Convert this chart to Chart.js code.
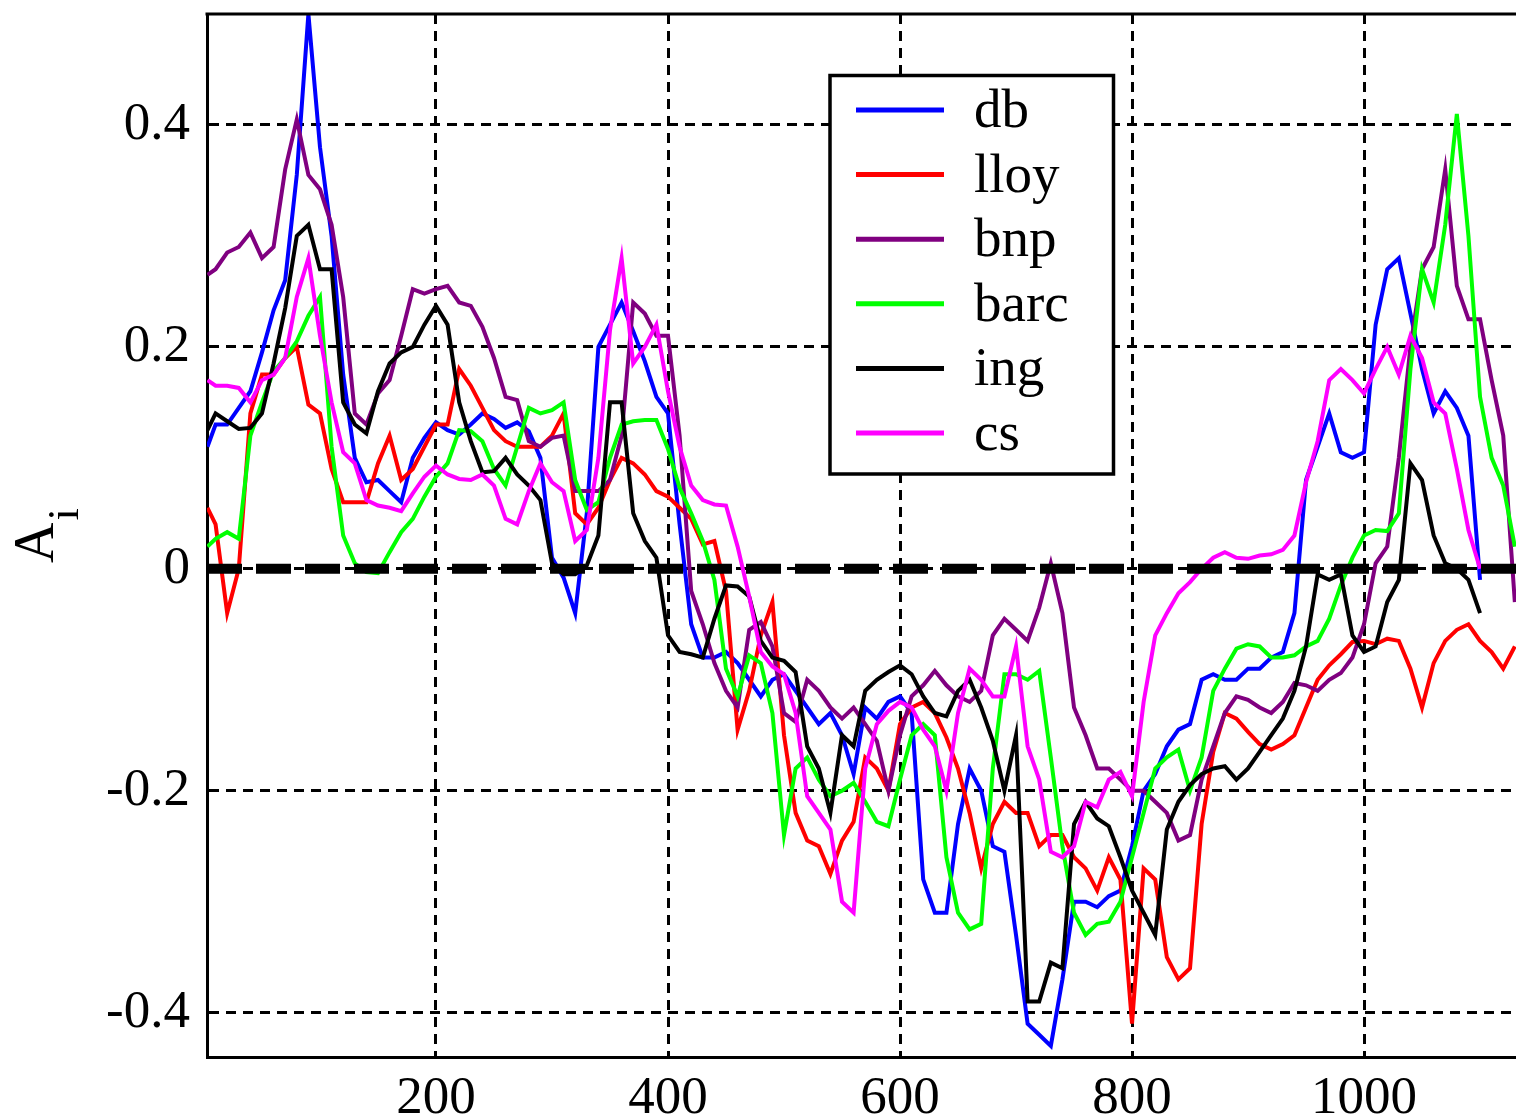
<!DOCTYPE html>
<html>
<head>
<meta charset="utf-8">
<script src="https://cdn.jsdelivr.net/npm/chart.js@4.4.1/dist/chart.umd.min.js"></script>
<style>
  html, body { margin: 0; padding: 0; background: #fff; }
  canvas { display: block; }
</style>
</head>
<body>
<canvas id="chart" width="1516" height="1117"></canvas>
<script>
// x positions shared by every series
const xValues = [
  3, 10, 20, 30, 40, 50, 60, 70, 80, 90,
  100, 110, 120, 130, 140, 150, 160, 170, 180, 190,
  200, 210, 220, 230, 240, 250, 260, 270, 280, 290,
  300, 310, 320, 330, 340, 350, 360, 370, 380, 390,
  400, 410, 420, 430, 440, 450, 460, 470, 480, 490,
  500, 510, 520, 530, 540, 550, 560, 570, 580, 590,
  600, 610, 620, 630, 640, 650, 660, 670, 680, 690,
  700, 710, 720, 730, 740, 750, 760, 770, 780, 790,
  800, 810, 820, 830, 840, 850, 860, 870, 880, 890,
  900, 910, 920, 930, 940, 950, 960, 970, 980, 990,
  1000, 1010, 1020, 1030, 1040, 1050, 1060, 1070, 1080, 1090,
  1100, 1110, 1120, 1130
]

const db = [
  0.11, 0.13, 0.13, 0.145, 0.16, 0.195, 0.233, 0.26, 0.355, 0.5,
  0.38, 0.3, 0.175, 0.1, 0.078, 0.08, 0.07, 0.06, 0.1, 0.118,
  0.132, 0.125, 0.121, 0.13, 0.14, 0.135, 0.127, 0.132, 0.124, 0.1,
  0.01, -0.008, -0.04, 0.05, 0.2, 0.22, 0.24, 0.214, 0.187, 0.155,
  0.14, 0.04, -0.05, -0.08, -0.08, -0.075, -0.085, -0.1, -0.115, -0.1,
  -0.095, -0.11, -0.125, -0.14, -0.13, -0.15, -0.185, -0.125, -0.135, -0.12,
  -0.115, -0.13, -0.28, -0.31, -0.31, -0.23, -0.18, -0.2, -0.25, -0.255,
  -0.33, -0.41, -0.42, -0.43, -0.37, -0.3, -0.3, -0.305, -0.295, -0.29,
  -0.25, -0.2, -0.185, -0.16, -0.145, -0.14, -0.1, -0.095, -0.1, -0.1,
  -0.09, -0.09, -0.08, -0.075, -0.04, 0.08, 0.11, 0.14, 0.105, 0.1,
  0.105, 0.22, 0.27, 0.28, 0.23, 0.18, 0.14, 0.16, 0.145, 0.12,
  -0.01, null, null, null
]

const lloy = [
  0.055, 0.04, -0.04, 0.0, 0.14, 0.175, 0.175, 0.19, 0.2, 0.148,
  0.14, 0.09, 0.06, 0.06, 0.06, 0.095, 0.12, 0.08, 0.09, 0.11,
  0.13, 0.13, 0.18, 0.165, 0.145, 0.125, 0.115, 0.11, 0.11, 0.11,
  0.12, 0.14, 0.05, 0.04, 0.055, 0.08, 0.1, 0.095, 0.085, 0.07,
  0.065, 0.055, 0.045, 0.022, 0.025, -0.02, -0.145, -0.11, -0.06, -0.03,
  -0.15, -0.22, -0.245, -0.25, -0.275, -0.245, -0.228, -0.17, -0.18, -0.2,
  -0.14, -0.125, -0.12, -0.13, -0.152, -0.18, -0.22, -0.27, -0.23, -0.21,
  -0.22, -0.22, -0.25, -0.24, -0.24, -0.26, -0.27, -0.29, -0.26, -0.28,
  -0.41, -0.27, -0.28, -0.35, -0.37, -0.36, -0.23, -0.165, -0.13, -0.135,
  -0.147, -0.158, -0.163, -0.158, -0.15, -0.125, -0.1, -0.087, -0.077, -0.066,
  -0.065, -0.068, -0.063, -0.065, -0.09, -0.125, -0.085, -0.065, -0.055, -0.05,
  -0.065, -0.075, -0.09, -0.07
]

const bnp = [
  0.265, 0.27, 0.285, 0.29, 0.303, 0.28, 0.29, 0.36, 0.405, 0.355,
  0.342, 0.31, 0.245, 0.14, 0.13, 0.158, 0.17, 0.21, 0.252, 0.248,
  0.252, 0.255, 0.24, 0.237, 0.218, 0.19, 0.155, 0.152, 0.115, 0.11,
  0.118, 0.12, 0.07, 0.07, 0.07, 0.08, 0.12, 0.24, 0.23, 0.21,
  0.21, 0.12, -0.02, -0.05, -0.085, -0.11, -0.125, -0.055, -0.048, -0.07,
  -0.13, -0.138, -0.1, -0.11, -0.125, -0.135, -0.125, -0.14, -0.155, -0.2,
  -0.15, -0.115, -0.105, -0.092, -0.105, -0.115, -0.12, -0.11, -0.06, -0.045,
  -0.055, -0.065, -0.035, 0.005, -0.04, -0.125, -0.15, -0.18, -0.18, -0.19,
  -0.2, -0.2, -0.21, -0.22, -0.245, -0.24, -0.19, -0.16, -0.13, -0.115,
  -0.118, -0.125, -0.13, -0.12, -0.103, -0.105, -0.11, -0.1, -0.094, -0.08,
  -0.05, 0.005, 0.02, 0.1, 0.2, 0.27, 0.29, 0.36, 0.255, 0.225,
  0.225, 0.17, 0.12, -0.03
]

const barc = [
  0.02, 0.027, 0.033, 0.027, 0.12, 0.15, 0.178, 0.19, 0.205, 0.228,
  0.245, 0.11, 0.03, 0.005, -0.003, -0.004, 0.015, 0.033, 0.045, 0.065,
  0.083, 0.095, 0.125, 0.124, 0.115, 0.09, 0.075, 0.11, 0.145, 0.14,
  0.143, 0.15, 0.08, 0.053, 0.06, 0.1, 0.13, 0.133, 0.134, 0.134,
  0.108, 0.073, 0.05, 0.025, -0.01, -0.09, -0.115, -0.078, -0.085, -0.13,
  -0.24, -0.18, -0.17, -0.19, -0.205, -0.2, -0.193, -0.21, -0.228, -0.232,
  -0.19, -0.15, -0.14, -0.15, -0.26, -0.31, -0.325, -0.32, -0.18, -0.095,
  -0.095, -0.1, -0.092, -0.17, -0.25, -0.31, -0.33, -0.32, -0.318, -0.3,
  -0.26, -0.22, -0.18, -0.17, -0.163, -0.2, -0.17, -0.11, -0.09, -0.072,
  -0.068, -0.07, -0.08, -0.08, -0.078, -0.07, -0.065, -0.045, -0.015, 0.01,
  0.03, 0.035, 0.034, 0.05, 0.18, 0.27, 0.24, 0.31, 0.41, 0.3,
  0.155, 0.1, 0.075, 0.02
]

const ing = [
  0.125, 0.14, 0.133, 0.126, 0.127, 0.14, 0.185, 0.235, 0.3, 0.31,
  0.27, 0.27, 0.15, 0.13, 0.122, 0.16, 0.185, 0.195, 0.2, 0.22,
  0.237, 0.22, 0.15, 0.115, 0.087, 0.088, 0.1, 0.085, 0.075, 0.062,
  0.005, -0.005, -0.005, 0.003, 0.03, 0.15, 0.15, 0.05, 0.025, 0.01,
  -0.06, -0.075, -0.077, -0.08, -0.045, -0.015, -0.016, -0.025, -0.065, -0.08,
  -0.083, -0.093, -0.16, -0.18, -0.22, -0.15, -0.16, -0.11, -0.1, -0.093,
  -0.087, -0.095, -0.115, -0.13, -0.133, -0.11, -0.1, -0.125, -0.155, -0.2,
  -0.15, -0.39, -0.39, -0.355, -0.36, -0.23, -0.21, -0.225, -0.232, -0.26,
  -0.29, -0.31, -0.33, -0.235, -0.21, -0.195, -0.185, -0.18, -0.178, -0.19,
  -0.18, -0.165, -0.15, -0.135, -0.11, -0.07, -0.005, -0.01, -0.005, -0.06,
  -0.075, -0.07, -0.03, -0.01, 0.095, 0.08, 0.03, 0.005, 0.0, -0.01,
  -0.04, null, null, null
]

const cs = [
  0.17, 0.165, 0.165, 0.163, 0.15, 0.17, 0.175, 0.19, 0.245, 0.28,
  0.21, 0.15, 0.105, 0.095, 0.062, 0.057, 0.055, 0.052, 0.068, 0.083,
  0.093, 0.085, 0.081, 0.08, 0.085, 0.075, 0.045, 0.04, 0.07, 0.095,
  0.078, 0.07, 0.025, 0.035, 0.1, 0.215, 0.28, 0.185, 0.2, 0.22,
  0.16, 0.11, 0.075, 0.062, 0.058, 0.057, 0.02, -0.025, -0.075, -0.088,
  -0.095, -0.13, -0.205, -0.22, -0.235, -0.3, -0.31, -0.18, -0.14, -0.128,
  -0.12, -0.125, -0.145, -0.16, -0.2, -0.13, -0.09, -0.1, -0.115, -0.115,
  -0.07, -0.16, -0.19, -0.255, -0.26, -0.25, -0.21, -0.215, -0.19, -0.183,
  -0.205, -0.12, -0.06, -0.04, -0.022, -0.012, 0.0, 0.01, 0.015, 0.01,
  0.009, 0.012, 0.013, 0.017, 0.03, 0.078, 0.115, 0.17, 0.18, 0.17,
  0.158, 0.18, 0.2, 0.175, 0.21, 0.19, 0.15, 0.14, 0.09, 0.035,
  0.0, null, null, null
]

const seriesNames = ['db', 'lloy', 'bnp', 'barc', 'ing', 'cs']
const seriesColors = ['#0000ff', '#ff0000', '#800080', '#00ff00', '#000000', '#ff00ff']
const seriesValues = [db, lloy, bnp, barc, ing, cs]

// dashed reference line at zero
const zeroX = [2.6, 1131]
const zeroY = [0, 0]

const xTicks = [200, 400, 600, 800, 1000]
const yTicks = [-0.4, -0.2, 0, 0.2, 0.4]

const serif = '"Liberation Serif", "Times New Roman", serif'

function toPoints(xs, ys){
  return xs.map((x, i) => ({x: x, y: ys[i]}))
}

function makeDatasets(){
  const sets = seriesValues.map((values, i) => ({
    label: seriesNames[i],
    data: toPoints(xValues, values),
    borderColor: seriesColors[i],
    borderWidth: 4,
    pointRadius: 0,
    tension: 0,
    fill: false,
    order: seriesNames.length - i
  }))
  sets.push({
    label: 'zero',
    data: toPoints(zeroX, zeroY),
    borderColor: '#000',
    borderWidth: 10,
    borderDash: [35, 14],
    pointRadius: 0,
    fill: false,
    order: 0
  })
  return sets
}

// legend box drawn inside the plot, like the original
const boxLegend = {
  id: 'boxLegend',
  afterDraw(chart) {
    const ctx = chart.ctx
    ctx.save()
    ctx.fillStyle = '#fff'
    ctx.fillRect(830, 75.5, 283.5, 398.5)
    ctx.lineWidth = 3.5
    ctx.strokeStyle = '#000'
    ctx.strokeRect(830, 75.5, 283.5, 398.5)
    ctx.font = '55px ' + serif
    ctx.textBaseline = 'alphabetic'
    ctx.textAlign = 'left'
    seriesNames.forEach((name, i) => {
      const y = 110 + i * 64.6
      ctx.beginPath()
      ctx.lineWidth = 5
      ctx.strokeStyle = seriesColors[i]
      ctx.moveTo(856, y)
      ctx.lineTo(944, y)
      ctx.stroke()
      ctx.fillStyle = '#000'
      ctx.fillText(name, 974, y + 17)
    })
    ctx.restore()
  }
}

// frame line on top + rotated axis title with subscript
const frameAndTitle = {
  id: 'frameAndTitle',
  afterDraw(chart) {
    const ctx = chart.ctx
    const area = chart.chartArea
    ctx.save()
    ctx.strokeStyle = '#000'
    ctx.lineWidth = 3
    ctx.beginPath()
    ctx.moveTo(area.left - 1.5, area.top)
    ctx.lineTo(area.right, area.top)
    ctx.stroke()

    ctx.translate(53, 563)
    ctx.rotate(-Math.PI / 2)
    ctx.fillStyle = '#000'
    ctx.textBaseline = 'alphabetic'
    ctx.textAlign = 'left'
    ctx.font = '56px ' + serif
    ctx.fillText('A', 0, 0)
    const w = ctx.measureText('A').width
    ctx.font = '44px ' + serif
    ctx.fillText('i', w + 2, 25)
    ctx.restore()
  }
}

const axisLine = { display: true, color: '#000', width: 3, dash: [10, 7] }

new Chart(document.getElementById('chart'), {
  type: 'line',
  data: { datasets: makeDatasets() },
  options: {
    responsive: false,
    devicePixelRatio: 1,
    animation: false,
    layout: { padding: { top: 14, right: 0, bottom: 0, left: 0 } },
    plugins: {
      legend: { display: false },
      tooltip: { enabled: false }
    },
    scales: {
      x: {
        type: 'linear',
        min: 2.6,
        max: 1131,
        afterBuildTicks: axis => { axis.ticks = xTicks.map(v => ({value: v})) },
        afterFit: axis => {
          axis.height = 60
          axis.paddingLeft = 0
          axis.paddingRight = 0
        },
        grid: { color: '#000', lineWidth: 3, drawTicks: false },
        border: axisLine,
        ticks: {
          color: '#000',
          font: { family: serif, size: 53 },
          padding: 10,
          maxRotation: 0,
          autoSkip: false,
          callback: v => String(v)
        }
      },
      y: {
        type: 'linear',
        min: -0.44,
        max: 0.5,
        afterBuildTicks: axis => { axis.ticks = yTicks.map(v => ({value: v})) },
        afterFit: axis => {
          axis.width = 207
          axis.paddingTop = 0
          axis.paddingBottom = 0
        },
        grid: { color: '#000', lineWidth: 3, drawTicks: false },
        border: axisLine,
        ticks: {
          color: '#000',
          font: { family: serif, size: 53 },
          padding: 17,
          autoSkip: false,
          callback: v => v === 0 ? '0' : v.toFixed(1)
        }
      }
    }
  },
  plugins: [boxLegend, frameAndTitle]
})
</script>
</body>
</html>
